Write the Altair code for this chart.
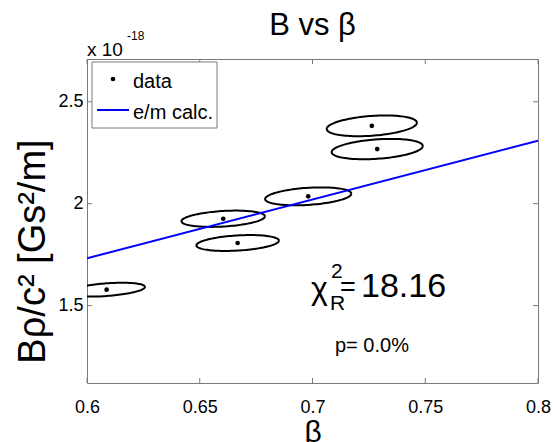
import numpy as np
import pandas as pd
import altair as alt

# ---- data (y in units of 1e-18 Gs^2/m) ----
beta = [0.6087, 0.6604, 0.6668, 0.6981, 0.7263, 0.7287]
brho = [1.578, 1.926, 1.807, 2.036, 2.382, 2.268]
sig_beta = [0.0170, 0.0185, 0.0183, 0.0191, 0.0200, 0.0202]
sig_brho = [0.034, 0.040, 0.039, 0.044, 0.051, 0.050]
corr = [0.40, 0.30, 0.30, 0.30, 0.30, 0.30]

fit_beta = [0.6, 0.8]
fit_brho = [1.732, 2.309]

x_ticks = [0.6, 0.65, 0.7, 0.75, 0.8]
y_ticks = [1.5, 2.0, 2.5]
X_DOM = [0.6, 0.8]
Y_DOM = [1.12, 2.71]

W, H = 451, 324
FONT = "Liberation Sans"
GREY = "#7a7a7a"

pts = pd.DataFrame({"beta": beta, "brho": brho})
fit = pd.DataFrame({"beta": fit_beta, "brho": fit_brho})

# error ellipse outlines built from centre, half-widths and correlation
t = np.linspace(0, 2 * np.pi, 121)
rows = []
for i, (cx, cy, sx, sy, r) in enumerate(zip(beta, brho, sig_beta, sig_brho, corr)):
    xs_ = cx + sx * np.cos(t)
    ys_ = cy + sy * (r * np.cos(t) + np.sqrt(1 - r * r) * np.sin(t))
    for k, (a, b) in enumerate(zip(xs_, ys_)):
        rows.append({"id": i, "k": k, "beta": a, "brho": b})
ell = pd.DataFrame(rows)

xs = alt.Scale(domain=X_DOM, nice=False, zero=False)
ys = alt.Scale(domain=Y_DOM, nice=False, zero=False)

xax = alt.Axis(values=x_ticks, format=".2~f", grid=False, domain=False, ticks=False,
               tickSize=0, labelPadding=15, labelFontSize=18, labelFont=FONT,
               labelFlush=False, labelColor="black", title="β", titleFont=FONT,
               titleFontSize=30, titleFontWeight="normal", titleColor="black",
               titlePadding=1)
yax = alt.Axis(values=y_ticks, format="~g", grid=False, domain=False, ticks=False,
               tickSize=0, labelPadding=4, labelFontSize=18, labelFont=FONT,
               labelFlush=False, labelColor="black", title="Bρ/c² [Gs²/m]",
               titleFont=FONT, titleFontSize=38, titleFontWeight="normal",
               titleColor="black", titleAngle=-90, titleBaseline="alphabetic",
               titleX=-43, titleY=192, titleAlign="center")

ellipses = alt.Chart(ell).mark_line(color="black", strokeWidth=2, clip=True).encode(
    x=alt.X("beta:Q", scale=xs, axis=xax),
    y=alt.Y("brho:Q", scale=ys, axis=yax),
    detail="id:N",
    order="k:Q",
)

dots = alt.Chart(pts).mark_circle(color="black", size=22, opacity=1).encode(
    x=alt.X("beta:Q", scale=xs), y=alt.Y("brho:Q", scale=ys))

line = alt.Chart(fit).mark_line(color="#0000ff", strokeWidth=2, clip=True).encode(
    x=alt.X("beta:Q", scale=xs), y=alt.Y("brho:Q", scale=ys))

# inside ticks (box style)
xt = pd.DataFrame({"v": x_ticks})
yt = pd.DataFrame({"v": y_ticks})
xtick_b = alt.Chart(xt).mark_rule(color=GREY, strokeWidth=1).encode(
    x=alt.X("v:Q", scale=xs), y=alt.value(H), y2=alt.value(H - 5))
xtick_t = alt.Chart(xt).mark_rule(color=GREY, strokeWidth=1).encode(
    x=alt.X("v:Q", scale=xs), y=alt.value(0), y2=alt.value(5))
ytick_l = alt.Chart(yt).mark_rule(color=GREY, strokeWidth=1).encode(
    y=alt.Y("v:Q", scale=ys), x=alt.value(0), x2=alt.value(5))
ytick_r = alt.Chart(yt).mark_rule(color=GREY, strokeWidth=1).encode(
    y=alt.Y("v:Q", scale=ys), x=alt.value(W), x2=alt.value(W - 5))

# legend
one = pd.DataFrame({"a": [0]})
leg_box = alt.Chart(one).mark_rect(fill="white", stroke=GREY, strokeWidth=1).encode(
    x=alt.value(5), x2=alt.value(130), y=alt.value(3), y2=alt.value(69))
leg_dot = alt.Chart(one).mark_circle(color="black", size=22, opacity=1).encode(
    x=alt.value(26), y=alt.value(20))
leg_line = alt.Chart(one).mark_rule(color="#0000ff", strokeWidth=2).encode(
    x=alt.value(10), x2=alt.value(42), y=alt.value(51))
leg_txt = alt.Chart(pd.DataFrame({"s": ["data", "e/m calc."], "yy": [29, 60]})).mark_text(
    align="left", baseline="alphabetic", font=FONT, fontSize=20, color="black").encode(
    x=alt.value(46), y=alt.Y("yy:Q", scale=None), text="s:N")


def label(txt, x, y, size, align="left"):
    return alt.Chart(pd.DataFrame({"s": [txt]})).mark_text(
        align=align, baseline="alphabetic", font=FONT, fontSize=size, color="black").encode(
        x=alt.value(x), y=alt.value(y), text="s:N")


title = label("B vs β", W / 2, -24, 31, align="center")
exp1 = label("x 10", 0, -3, 19)
exp2 = label("-18", 40, -19, 12)
chi = label("χ", 224, 240, 32)
chi2 = label("2", 244, 219, 21)
chiR = label("R", 243, 251, 21)
chieq = label("=", 253, 237, 27)
chiv = label("18.16", 274, 238, 34)
pval = label("p= 0.0%", 248, 293, 20)

chart = alt.layer(
    ellipses, line, dots,
    xtick_b, xtick_t, ytick_l, ytick_r,
    leg_box, leg_dot, leg_line, leg_txt,
    title, exp1, exp2, chi, chi2, chiR, chieq, chiv, pval,
).properties(
    width=W, height=H,
    autosize=alt.AutoSizeParams(type="none"),
    padding={"left": 87, "top": 59, "right": 16, "bottom": 59},
    background="white",
).configure_view(stroke=GREY, strokeWidth=1)

chart.save("out.html", embed_options={"renderer": "svg", "actions": False})
